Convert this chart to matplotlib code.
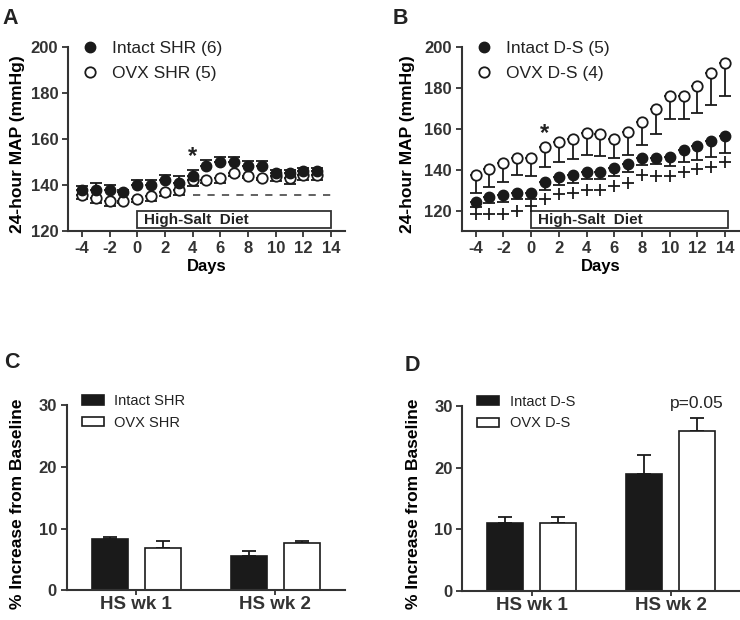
import numpy as np
import matplotlib
matplotlib.use('Agg')
import matplotlib.pyplot as plt

plt.rcParams['font.family'] = ['Liberation Sans', 'DejaVu Sans']
plt.rcParams['text.color'] = '#222222'
plt.rcParams['axes.edgecolor'] = '#333333'
plt.rcParams['xtick.color'] = '#333333'
plt.rcParams['ytick.color'] = '#333333'
plt.rcParams['axes.unicode_minus'] = False

# ---- Panel A: SHR daily MAP ----
days_a = list(range(-4, 14))
intact_shr = [138, 138, 138, 137, 140, 140, 142, 141, 144, 148, 150, 150, 148, 148, 145, 145, 146, 146]
intact_shr_sem = [1.5, 3, 2, 1, 2.3, 2.3, 2.3, 3, 2.3, 2.8, 2.3, 2.3, 2.3, 2.3, 1.5, 1.5, 1.5, 1.5]
ovx_shr = [135.6, 134.5, 133, 133, 134, 135, 137, 138, 142, 142, 143, 145, 144, 143, 144, 143, 144.3, 144.3]
ovx_shr_sem = [1.5, 2.5, 2.3, 1, 1.5, 2, 2, 2.5, 2.3, 1, 2.2, 1, 1, 1, 2.3, 2.5, 2.3, 2.3]
baseline_shr = 135.5

# ---- Panel B: D-S daily MAP ----
days_b = list(range(-4, 15))
intact_ds = [124.4, 126.8, 127.6, 128.9, 128.9, 134.1, 136.7, 137.8, 139, 139, 141.1, 142.7,
             146, 146, 146.4, 149.7, 151.6, 154.1, 156.5]
intact_ds_sem = [2.5, 2.8, 3, 2.9, 2.9, 3.6, 4, 4.3, 3.6, 3.6, 4, 3.7, 3.6, 3.3, 4.7, 5.7, 6.6, 8, 8]
ovx_ds = [137.5, 140.3, 143.2, 145.6, 146, 151.3, 153.6, 155.2, 158.1, 157.6, 154.9, 158.5,
          163.3, 169.5, 176, 176, 180.9, 187, 191.9]
ovx_ds_sem = [8.9, 8.6, 8.9, 8.1, 9, 9.7, 9.7, 10, 10.8, 10.8, 9.1, 11.2, 11.3, 12.2, 11.4, 11.4,
              13.4, 15.4, 15.9]
plus_ds = [118.4, 118.4, 118.4, 120, 122.4, 125.7, 128.1, 128.9, 130.2, 130.2, 132.2, 133.5,
           137.4, 137, 137, 139, 140.3, 141.4, 143.9]

# ---- Panels C, D: % increase from baseline ----
weeks = ['HS wk 1', 'HS wk 2']
pct_intact_shr = [8.3, 5.5]
pct_intact_shr_err = [0.4, 0.8]
pct_ovx_shr = [6.8, 7.6]
pct_ovx_shr_err = [1.2, 0.4]
pct_intact_ds = [11, 19]
pct_intact_ds_err = [1, 3]
pct_ovx_ds = [11, 26]
pct_ovx_ds_err = [1, 2]

DARK = '#1a1a1a'
fig = plt.figure(figsize=(7.4, 6.2), dpi=100)


def style_axes(ax):
    ax.spines['top'].set_visible(False)
    ax.spines['right'].set_visible(False)
    ax.spines['left'].set_linewidth(1.5)
    ax.spines['bottom'].set_linewidth(1.5)
    ax.tick_params(direction='out', length=4, width=1.3, labelsize=12, pad=3)
    for lab in ax.get_xticklabels() + ax.get_yticklabels():
        lab.set_fontweight('bold')


def line_panel(ax, days, filled, filled_err, opened, opened_err, filled_lbl, open_lbl,
               ylo, err_up_filled):
    if err_up_filled:
        fe = [np.zeros(len(filled)), filled_err]
    else:
        fe = [filled_err, np.zeros(len(filled))]
    oe = [opened_err, np.zeros(len(opened))]
    ax.errorbar(days, opened, yerr=oe, fmt='none', ecolor=DARK, elinewidth=1.3,
                capsize=4, capthick=1.3, zorder=2)
    h_o, = ax.plot(days, opened, 'o', ms=7.5, mfc='white', mec=DARK, mew=1.3, zorder=3)
    ax.errorbar(days, filled, yerr=fe, fmt='none', ecolor=DARK, elinewidth=1.3,
                capsize=4, capthick=1.3, zorder=3.5)
    h_f, = ax.plot(days, filled, 'o', ms=7.5, mfc=DARK, mec=DARK, mew=1.0, zorder=4)
    ax.set_xlim(-5, 15)
    ax.set_ylim(ylo, 200)
    ax.set_xticks(range(-4, 15, 2))
    ax.set_yticks(range(120, 201, 20))
    ax.set_xlabel('Days', fontsize=12, fontweight='bold', labelpad=2)
    ax.set_ylabel('24-hour MAP (mmHg)', fontsize=12.5, fontweight='bold')
    style_axes(ax)
    ax.legend([h_f, h_o], [filled_lbl, open_lbl], loc='upper left',
              bbox_to_anchor=(0.049, 1.03), frameon=False, fontsize=12.5, handlelength=1.0,
              handletextpad=0.75, labelspacing=0.55, borderpad=0, borderaxespad=0)


# Panel A
axA = fig.add_axes([0.0919, 0.6274, 0.3743, 0.2973])
line_panel(axA, days_a, intact_shr, intact_shr_sem, ovx_shr, ovx_shr_sem,
           'Intact SHR (6)', 'OVX SHR (5)', 120, True)
axA.plot([4, 14], [baseline_shr, baseline_shr], ls=(0, (4, 4)), color='#555555', lw=1.3, zorder=1)
axA.text(4, 147.5, '*', ha='center', va='bottom', fontsize=17, fontweight='bold')
axA.add_patch(plt.Rectangle((0, 121.2), 14, 7.5, fill=False, ec='#333333', lw=1.3,
                            clip_on=False))
axA.text(0.5, 124.9, 'High-Salt  Diet', ha='left', va='center', fontsize=11, fontweight='bold')
axA.yaxis.set_label_coords(-0.155, 0.47)

# Panel B
axB = fig.add_axes([0.6239, 0.6274, 0.3749, 0.2973])
line_panel(axB, days_b, intact_ds, intact_ds_sem, ovx_ds, ovx_ds_sem,
           'Intact D-S (5)', 'OVX D-S (4)', 110.3, False)
axB.plot(days_b, plus_ds, ls='none', marker='+', ms=8, mew=1.3, color=DARK, zorder=2)
axB.text(1, 152, '*', ha='center', va='bottom', fontsize=17, fontweight='bold')
axB.add_patch(plt.Rectangle((0, 111.8), 14.2, 8, fill=False, ec='#333333', lw=1.3,
                            clip_on=False))
axB.text(0.5, 115.8, 'High-Salt  Diet', ha='left', va='center', fontsize=11, fontweight='bold')
axB.yaxis.set_label_coords(-0.168, 0.47)


def bar_panel(ax, intact, intact_err, ovx, ovx_err, lbl_i, lbl_o):
    x = np.arange(len(weeks))
    w = 0.26
    off = 0.19
    ax.bar(x - off, intact, w, color=DARK, edgecolor=DARK, lw=1.2, label=lbl_i, zorder=2)
    ax.bar(x + off, ovx, w, color='white', edgecolor=DARK, lw=1.2, label=lbl_o, zorder=2)
    ax.errorbar(x - off, intact, yerr=[np.zeros(len(intact)), intact_err], fmt='none',
                ecolor=DARK, elinewidth=1.3, capsize=5, capthick=1.3, zorder=1)
    ax.errorbar(x + off, ovx, yerr=[np.zeros(len(ovx)), ovx_err], fmt='none',
                ecolor=DARK, elinewidth=1.3, capsize=5, capthick=1.3, zorder=1)
    ax.set_xlim(-0.5, 1.5)
    ax.set_ylim(0, 30)
    ax.set_yticks([0, 10, 20, 30])
    ax.set_xticks(x)
    ax.set_xticklabels(weeks)
    ax.set_ylabel('% Increase from Baseline', fontsize=12.5, fontweight='bold')
    style_axes(ax)
    ax.tick_params(axis='x', labelsize=13.5, pad=0.5, length=3.5)
    ax.legend(loc='upper left', bbox_to_anchor=(0.054, 1.061), frameon=False, fontsize=10.5,
              handlelength=1.5, handleheight=0.62, handletextpad=0.75, labelspacing=0.53,
              borderpad=0, borderaxespad=0)
    ax.yaxis.set_label_coords(-0.15, 0.47)


axC = fig.add_axes([0.0901, 0.0479, 0.3757, 0.2984])
bar_panel(axC, pct_intact_shr, pct_intact_shr_err, pct_ovx_shr, pct_ovx_shr_err,
          'Intact SHR', 'OVX SHR')

axD = fig.add_axes([0.6247, 0.0468, 0.3757, 0.2984])
bar_panel(axD, pct_intact_ds, pct_intact_ds_err, pct_ovx_ds, pct_ovx_ds_err,
          'Intact D-S', 'OVX D-S')
axD.text(1.19, 29.2, 'p=0.05', ha='center', va='bottom', fontsize=12.5)

# panel letters
for lbl, xx, yy in [('A', 0.003, 0.987), ('B', 0.531, 0.987), ('C', 0.006, 0.432), ('D', 0.547, 0.427)]:
    fig.text(xx, yy, lbl, fontsize=15.5, fontweight='bold', va='top', ha='left')

fig.savefig('out.png', dpi=100)
